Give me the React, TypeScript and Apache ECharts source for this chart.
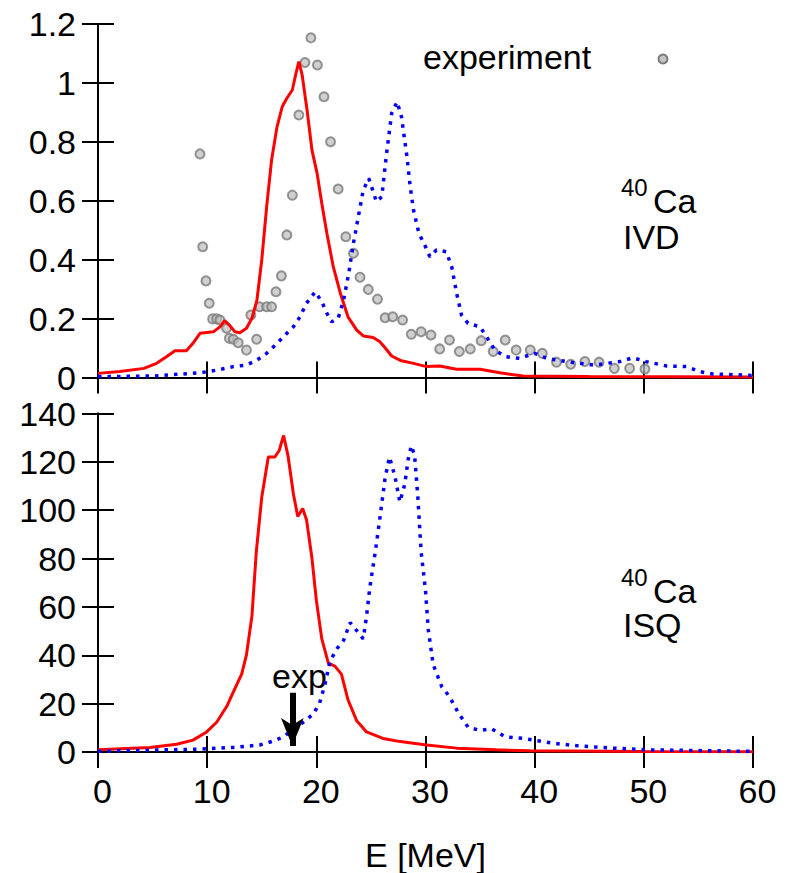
import React, { useEffect, useRef } from "react";
import * as echarts from "echarts";

// ---- Top panel (IVD) ----
const ivdRed: [number, number][] = [
  [0, 0.014], [2, 0.02], [4.2, 0.031], [5.37, 0.048], [6.3, 0.071], [7.05, 0.091], [8.1, 0.091],
  [8.7, 0.116], [9.34, 0.15], [10.56, 0.155], [11.17, 0.172], [11.6, 0.193], [12.1, 0.175],
  [12.55, 0.155], [13.0, 0.152], [13.6, 0.167], [14.1, 0.201], [14.56, 0.263], [15.0, 0.399],
  [15.45, 0.58], [15.9, 0.738], [16.4, 0.851], [16.87, 0.919], [17.3, 0.948], [17.8, 0.976],
  [18.1, 1.027], [18.4, 1.072], [18.7, 1.027], [19.15, 0.908], [19.6, 0.772], [20.07, 0.693],
  [20.5, 0.591], [20.97, 0.489], [21.55, 0.376], [22.2, 0.286], [22.9, 0.206], [23.7, 0.161],
  [24.3, 0.141], [25.2, 0.136], [25.8, 0.122], [26.2, 0.105], [26.9, 0.073], [27.7, 0.058],
  [28.9, 0.048], [30.1, 0.037], [31.3, 0.039], [32.85, 0.028], [35.0, 0.028], [36.8, 0.016],
  [38.95, 0.005], [45, 0.003], [60, 0.002],
];

const ivdBlue: [number, number][] = [
  [0, 0.003], [5.07, 0.005], [9.34, 0.016], [10.87, 0.025], [12.4, 0.037], [13.6, 0.042],
  [14.56, 0.059], [15.45, 0.082], [16.4, 0.116], [17.3, 0.15], [17.9, 0.172], [18.5, 0.206],
  [19.1, 0.252], [19.9, 0.291], [20.5, 0.257], [20.97, 0.218], [21.4, 0.189], [22.0, 0.201],
  [22.5, 0.263], [22.97, 0.354], [23.4, 0.456], [23.9, 0.557], [24.3, 0.636], [24.8, 0.676],
  [25.26, 0.625], [25.5, 0.597], [26.0, 0.614], [26.4, 0.75], [26.9, 0.897], [27.4, 0.936],
  [27.8, 0.885], [28.3, 0.75], [28.6, 0.648], [28.9, 0.569], [29.4, 0.489], [30.0, 0.444],
  [30.4, 0.41], [31.0, 0.433], [31.9, 0.427], [32.4, 0.376], [32.85, 0.286], [33.3, 0.212],
  [33.9, 0.184], [35.0, 0.172], [35.6, 0.138], [36.35, 0.093], [37.3, 0.071], [38.6, 0.065],
  [40.0, 0.082], [41.1, 0.065], [42.9, 0.054], [45.4, 0.042], [47.8, 0.054], [49.0, 0.067],
  [50.2, 0.054], [52.1, 0.039], [53.9, 0.037], [55.1, 0.02], [56.3, 0.012], [59.4, 0.008], [60, 0.007],
];

const ivdExperiment: [number, number][] = [
  [9.34, 0.759], [9.59, 0.444], [9.89, 0.328], [10.19, 0.252], [10.5, 0.199], [10.87, 0.199],
  [11.17, 0.195], [11.78, 0.167], [12.03, 0.133], [12.39, 0.13], [12.85, 0.118], [13.6, 0.093],
  [14.0, 0.212], [14.53, 0.13], [14.8, 0.24], [15.45, 0.24], [15.9, 0.24], [16.3, 0.291],
  [16.8, 0.345], [17.3, 0.484], [17.8, 0.619], [18.4, 0.891], [18.96, 1.069], [19.5, 1.153],
  [20.1, 1.061], [20.7, 0.953], [21.3, 0.8], [22.0, 0.64], [22.7, 0.478], [23.4, 0.422],
  [24.0, 0.34], [24.76, 0.299], [25.6, 0.266], [26.3, 0.203], [27.0, 0.206], [27.9, 0.195],
  [28.7, 0.147], [29.6, 0.155], [30.5, 0.144], [31.3, 0.097], [32.2, 0.127], [33.1, 0.088],
  [34.1, 0.097], [35.1, 0.125], [36.2, 0.088], [37.3, 0.127], [38.3, 0.093], [39.6, 0.093],
  [40.7, 0.082], [42.0, 0.052], [43.3, 0.045], [44.6, 0.054], [45.9, 0.052], [47.3, 0.031],
  [48.7, 0.031], [50.1, 0.029],
];

// ---- Bottom panel (ISQ) ----
const isqRed: [number, number][] = [
  [0, 0.9], [4.76, 1.9], [7.2, 3.2], [8.7, 4.9], [9.95, 8.3], [10.87, 12.3], [11.8, 18.9],
  [12.4, 24.9], [13.16, 32.2], [13.6, 40.2], [14.1, 56.2], [14.5, 82.8], [15.0, 105.4],
  [15.6, 122.0], [16.2, 122.0], [16.6, 124.7], [17.0, 130.9], [17.4, 122.7], [17.9, 106.7],
  [18.3, 97.4], [18.75, 100.7], [19.1, 96.1], [19.6, 80.1], [20.0, 62.8], [20.5, 46.8],
  [21.1, 36.8], [21.7, 35.5], [22.3, 32.2], [22.9, 21.6], [23.7, 12.9], [24.6, 8.3],
  [26.1, 5.6], [27.7, 4.3], [30.1, 2.9], [32.85, 1.6], [36.5, 0.9], [39.6, 0.5], [50, 0.2], [60, 0.1],
];

const isqBlue: [number, number][] = [
  [0, 0.3], [9.34, 1.2], [12.4, 1.9], [14.8, 2.9], [16.05, 4.5], [17.0, 6.3], [17.9, 9.6],
  [18.8, 12.3], [19.7, 15.6], [20.3, 20.2], [20.8, 28.2], [21.25, 37.5], [21.9, 42.8],
  [22.5, 46.2], [23.1, 53.5], [23.7, 50.2], [24.3, 46.8], [24.6, 56.2], [24.9, 68.1],
  [25.4, 82.8], [25.8, 96.0], [26.3, 113.4], [26.7, 122.0], [27.2, 114.0], [27.65, 103.4],
  [28.1, 110.7], [28.4, 120.7], [28.7, 126.7], [29.0, 122.7], [29.3, 105.4], [29.6, 82.8],
  [30.0, 66.8], [30.25, 50.8], [30.7, 36.2], [31.5, 26.9], [32.2, 22.9], [33.0, 16.2],
  [33.9, 10.3], [35.0, 8.9], [36.05, 9.6], [37.3, 6.3], [38.95, 5.6], [39.9, 4.9], [41.7, 3.6],
  [44.1, 2.5], [47.2, 1.6], [50.2, 0.9], [59.4, 0.3], [60, 0.3],
];

// experimental ISQ centroid arrow (E, top value, end value)
const expArrow = { e: 17.8, from: 24.5, to: 2.5 };

const FONT = "'Liberation Sans', Arial, Helvetica, sans-serif";
const FS = 34;

export default function App() {
  const ref = useRef<HTMLDivElement>(null);
  useEffect(() => {
    if (!ref.current) return;
    const chart = echarts.init(ref.current, undefined, { renderer: "svg" });
    const axisLine = { show: true, lineStyle: { color: "#000", width: 2 } };
    const tick = { show: true, inside: true, length: 16, lineStyle: { color: "#000", width: 2 } };
    const xBase = (grid: number, pos: string, labels: boolean, extra: any = {}) => ({
      type: "value", gridIndex: grid, position: pos, min: 0, max: 60, interval: 10,
      axisLine, axisTick: tick, splitLine: { show: false },
      axisLabel: {
        show: labels, fontSize: FS, color: "#000", fontFamily: FONT, margin: 22,
        padding: [0, 0, 0, 9],
      },
      ...extra,
    });
    const yBase = (grid: number, pos: string, labels: boolean, max: number, interval: number) => ({
      type: "value", gridIndex: grid, position: pos, min: 0, max, interval,
      axisLine, axisTick: tick, splitLine: { show: false },
      axisLabel: { show: labels, fontSize: FS, color: "#000", fontFamily: FONT, margin: 22 },
    });
    const txt = (text: string, x: number, y: number, size = FS) => ({
      type: "text", x, y,
      style: {
        text, fontSize: size, lineHeight: Math.round(size * 0.85), fontFamily: FONT, fill: "#000",
        verticalAlign: "middle", align: "left",
      },
    });
    chart.setOption({
      animation: false,
      backgroundColor: "#fff",
      grid: [
        { left: 98, top: 24, width: 655, height: 353.5, show: false },
        { left: 98, top: 413.5, width: 655, height: 350.5, show: false },
      ],
      xAxis: [
        xBase(0, "bottom", false),
        xBase(0, "top", false),
        xBase(1, "bottom", true, {
          name: "E [MeV]", nameLocation: "middle", nameGap: 86,
          nameTextStyle: { fontSize: FS, color: "#000", fontFamily: FONT },
        }),
        xBase(1, "top", false),
      ],
      yAxis: [
        yBase(0, "left", true, 1.2, 0.2),
        yBase(0, "right", false, 1.2, 0.2),
        yBase(1, "left", true, 140, 20),
        yBase(1, "right", false, 140, 20),
      ],
      series: [
        {
          type: "line", xAxisIndex: 0, yAxisIndex: 0, data: ivdRed, showSymbol: false,
          lineStyle: { color: "#ff0000", width: 3 }, z: 3,
        },
        {
          type: "line", xAxisIndex: 0, yAxisIndex: 0, data: ivdBlue, showSymbol: false,
          lineStyle: { color: "#0000ff", width: 3.5, type: [3.5, 6] }, z: 3,
        },
        {
          type: "scatter", name: "experiment", xAxisIndex: 0, yAxisIndex: 0, data: ivdExperiment,
          symbol: "circle", symbolSize: 9,
          itemStyle: { color: "rgba(190,190,190,0.9)", borderColor: "#7a7a7a", borderWidth: 2 }, z: 2,
        },
        {
          type: "line", xAxisIndex: 2, yAxisIndex: 2, data: isqRed, showSymbol: false,
          lineStyle: { color: "#ff0000", width: 3 }, z: 3,
        },
        {
          type: "line", xAxisIndex: 2, yAxisIndex: 2, data: isqBlue, showSymbol: false,
          lineStyle: { color: "#0000ff", width: 3.5, type: [3.5, 6] }, z: 3,
          markLine: {
            silent: true, animation: false,
            symbol: ["none", "arrow"], symbolSize: [17, 28],
            lineStyle: { color: "#000", width: 6, type: "solid" },
            label: { show: false },
            data: [[{ coord: [expArrow.e, expArrow.from] }, { coord: [expArrow.e, expArrow.to] }]],
            z: 5,
          },
        },
      ],
      graphic: [
        txt("experiment", 423, 57),
        {
          type: "circle", shape: { cx: 663, cy: 59, r: 4.5 },
          style: { fill: "rgba(190,190,190,0.9)", stroke: "#7a7a7a", lineWidth: 2 },
        },
        txt("40", 621, 187, 24),
        txt("Ca", 653, 201),
        txt("IVD", 623, 237),
        txt("40", 621, 577, 24),
        txt("Ca", 653, 591),
        txt("ISQ", 623, 625),
        txt("exp", 272, 676),
      ],
    });
    return () => chart.dispose();
  }, []);
  return (
    <div
      ref={ref}
      style={{ position: "absolute", left: 0, top: 0, width: 792, height: 873, background: "#fff" }}
    />
  );
}
